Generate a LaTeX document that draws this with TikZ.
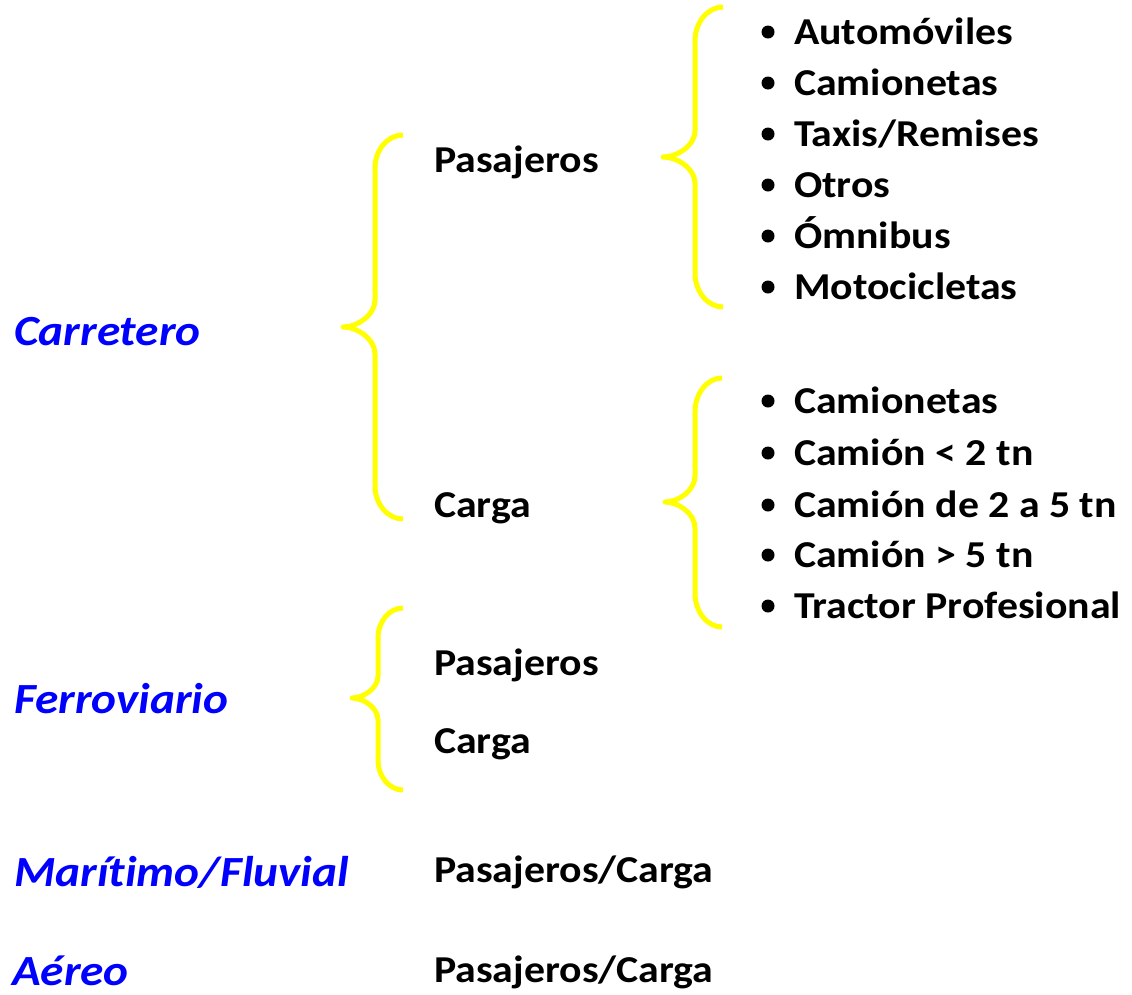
\documentclass[tikz,border=0pt]{standalone}
\usepackage{fontspec}
\setmainfont[FakeStretch=1.1,Ligatures=NoCommon]{Carlito}
\begin{document}
\begin{tikzpicture}[x=1pt,y=-1pt,
  cat/.style={anchor=base west,inner sep=0pt,font=\fontsize{43}{50}\selectfont\bfseries\itshape,text=catblue},
  sub/.style={anchor=base west,inner sep=0pt,font=\fontsize{38}{44}\selectfont\bfseries,text=black},
  itm/.style={anchor=base west,inner sep=0pt,font=\fontsize{38}{44}\selectfont\bfseries,text=black},
  brace/.style={draw=braceyellow,line width=5pt,line join=round},
  dot/.style={fill=black}]
\definecolor{catblue}{RGB}{0,0,255}
\definecolor{braceyellow}{RGB}{255,255,0}
\useasboundingbox (0,0) rectangle (1132,994);
% brace macro: #1 end x, #2 mid x, #3 tip x, #4 top y, #5 tip y, #6 bottom y, #7 top radius, #8 tip radius
\newcommand{\curlybr}[8]{%
  \draw[brace] (#1,#4) .. controls ({#2+0.45*(#1-#2)},#4) and (#2,{#4+0.45*#7}) .. (#2,{#4+#7})
    -- (#2,{#5-#8}) .. controls (#2,{#5-0.45*#8}) and ({#3+0.45*(#2-#3)},#5) .. (#3,#5)
    .. controls ({#3+0.45*(#2-#3)},#5) and (#2,{#5+0.45*#8}) .. (#2,{#5+#8})
    -- (#2,{#6-#7}) .. controls (#2,{#6-0.45*#7}) and ({#2+0.45*(#1-#2)},#6) .. (#1,#6);}
% categories
\node[cat] (carr) at (14,345) {Carretero};
\node[cat] (ferr) at (14,713) {Ferroviario};
\node[cat] (mari) at (14,886) {Marítimo/Fluvial};
\node[cat] (aere) at (12,985) {Aéreo};
% sub categories
\node[sub] (cpas) at (434,172) {Pasajeros};
\node[sub] (ccar) at (434,517) {Carga};
\node[sub] (fpas) at (434,675) {Pasajeros};
\node[sub] (fcar) at (434,753) {Carga};
\node[sub] (mpc) at (434,882) {Pasajeros/Carga};
\node[sub] (apc) at (434,982) {Pasajeros/Carga};
% braces
\curlybr{403}{375}{343}{135}{327}{519}{33}{27}
\curlybr{723}{695}{663}{7}{157}{307}{34}{26}
\curlybr{722}{695}{665}{378}{502}{627}{34}{26}
\curlybr{403}{378}{352}{608}{698}{790}{30}{22}
% passenger vehicle list
\foreach \t/\y/\n in {Automóviles/44/p1,Camionetas/95/p2,Taxis\slash Remises/146/p3,Otros/197/p4,Ómnibus/248/p5,Motocicletas/299/p6}{
  \fill[dot] (768,\y-12) circle (6.5);
  \node[itm] (\n) at (794,\y) {\t};
}
% cargo vehicle list
\foreach \t/\y/\n in {Camionetas/413/k1,Camión < 2 tn/465/k2,Camión de 2 a 5 tn/517/k3,Camión > 5 tn/567/k4,Tractor Profesional/618/k5}{
  \fill[dot] (768,\y-12) circle (6.5);
  \node[itm] (\n) at (794,\y) {\t};
}
\end{tikzpicture}
\end{document}
